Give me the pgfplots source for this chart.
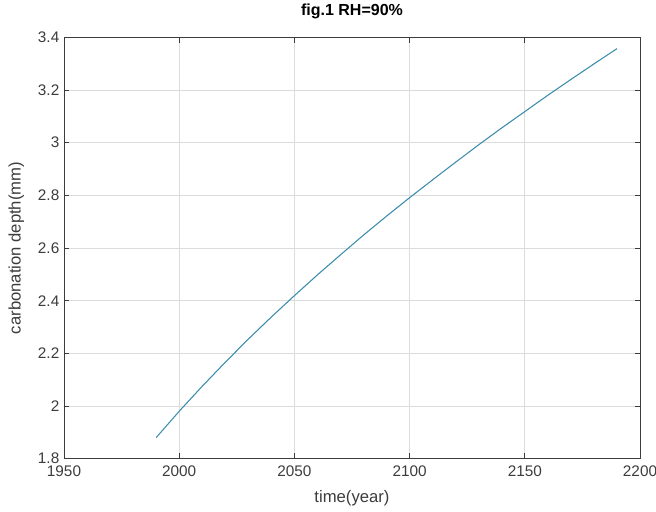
\documentclass[border=0pt]{standalone}
\usepackage{fontspec}
\setmainfont{Liberation Sans}
\usepackage{pgfplots}
\pgfplotsset{compat=1.18}
\definecolor{mline}{RGB}{60,140,172}
\definecolor{axgray}{RGB}{60,60,60}
\definecolor{gridgray}{RGB}{220,220,220}
\begin{document}
\begin{tikzpicture}
\begin{axis}[
  name=ax,
  scale only axis,
  width=432pt, height=316pt,
  xmin=1950, xmax=2200, ymin=1.8, ymax=3.4,
  xtick={1950,2000,...,2200},
  ytick={1.8,2,...,3.4},
  yticklabels={1.8,2,2.2,2.4,2.6,2.8,3,3.2,3.4},
  /pgf/number format/assume math mode=true,
  /pgf/number format/1000 sep={},
  tick align=inside,
  major tick length=4pt,
  axis line style={axgray, line width=0.6pt},
  every tick/.style={axgray, line width=0.5pt},
  tick label style={font=\fontsize{11.5}{13}\selectfont, text=axgray},
  grid=major,
  major grid style={gridgray, line width=0.5pt},
  xlabel={time(year)},
  ylabel={carbonation depth(mm)},
  label style={font=\fontsize{12.5}{14}\selectfont, text=axgray},
  xlabel style={at={(axis description cs:0.5,-0.095)}, anchor=center},
  ylabel style={at={(axis description cs:-0.083,0.5)}, anchor=center},
  every axis title shift=0pt,
  title={\textbf{fig.1 RH=90\%}},
  title style={font=\fontsize{12}{14}\selectfont, at={(axis description cs:0.5,1.062)}, anchor=center},
  xticklabel style={yshift=-2pt},
]
\addplot[mline, line width=0.8pt] coordinates {
(1990,1.880) (2000,1.980) (2010,2.075) (2020,2.166) (2030,2.254)
(2040,2.338) (2050,2.419) (2060,2.498) (2070,2.574) (2080,2.649)
(2090,2.721) (2100,2.791) (2110,2.859) (2120,2.926) (2130,2.992)
(2140,3.056) (2150,3.118) (2160,3.180) (2170,3.240) (2180,3.299)
(2190,3.357)
};
\end{axis}
\pgfresetboundingbox
\path (ax.south west) ++(-48pt,-40pt) coordinate (bl);
\path (ax.north east) ++(12pt,28pt) coordinate (tr);
\path (bl) rectangle (tr);
\end{tikzpicture}
\end{document}
